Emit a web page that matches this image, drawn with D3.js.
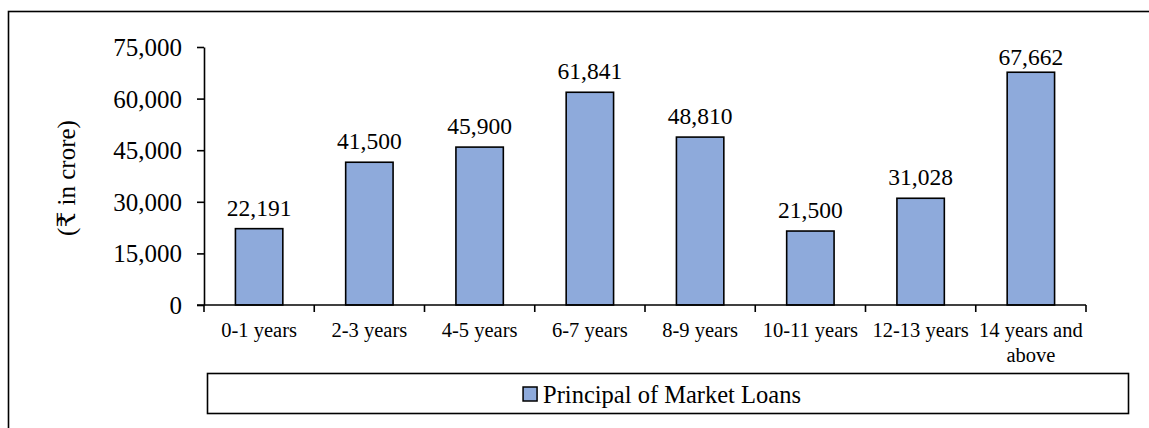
<!DOCTYPE html>
<html>
<head>
<meta charset="utf-8">
<script src="https://cdn.jsdelivr.net/npm/d3@7"></script>
<style>
  html, body { margin: 0; padding: 0; background: #fff; }
  svg { display: block; }
  svg text { font-family: "Liberation Serif", "Times New Roman", Times, Tinos, "DejaVu Serif", serif !important; fill: #000; }
</style>
</head>
<body>
<svg id="chart" width="1149" height="428"></svg>
<script>
const categories = ["0-1 years", "2-3 years", "4-5 years", "6-7 years", "8-9 years", "10-11 years", "12-13 years", "14 years and|above"];
const values = [22191, 41500, 45900, 61841, 48810, 21500, 31028, 67662];
const yTicks = [0, 15000, 30000, 45000, 60000, 75000];
const seriesName = "Principal of Market Loans";
const yTitle = "(₹ in crore)";

const FONT = "'Liberation Serif', 'Times New Roman', Times, Tinos, 'DejaVu Serif', serif";
const svg = d3.select("#chart").attr("font-family", FONT);
const barColor = "#8eaadb";

// outer frame
svg.append("rect").attr("x", 8.5).attr("y", 11.5).attr("width", 1160).attr("height", 440)
  .attr("fill", "none").attr("stroke", "#000").attr("stroke-width", 1.6);

const x = d3.scaleBand().domain(categories).range([204, 1086]).padding(0);
const y = d3.scaleLinear().domain([0, 75000]).range([305, 47]);
const fmt = d3.format(",");

// y axis
const yAxis = svg.append("g").attr("transform", "translate(204,0)")
  .call(d3.axisLeft(y).tickValues(yTicks).tickFormat(fmt).tickSize(7).tickSizeOuter(0));
yAxis.attr("font-family", FONT);
yAxis.select(".domain").attr("stroke", "#000").attr("stroke-width", 1.6);
yAxis.selectAll(".tick line").attr("stroke", "#000").attr("stroke-width", 1.6);
yAxis.selectAll(".tick text").attr("font-size", 25).attr("x", -22).attr("dy", "0.34em");

// bars
const bw = x.bandwidth() * 0.43;
svg.append("g").selectAll("rect").data(values).join("rect")
  .attr("x", (d, i) => x(categories[i]) + (x.bandwidth() - bw) / 2)
  .attr("y", d => y(d))
  .attr("width", bw)
  .attr("height", d => y(0) - y(d))
  .attr("fill", barColor).attr("stroke", "#000").attr("stroke-width", 1.6);

// x axis line
svg.append("line").attr("x1", 197).attr("x2", 1086).attr("y1", y(0)).attr("y2", y(0))
  .attr("stroke", "#000").attr("stroke-width", 1.6);
// x ticks at category boundaries
const bounds = categories.map(c => x(c)).concat([x.range()[1]]);
svg.append("g").selectAll("line").data(bounds).join("line")
  .attr("x1", d => d).attr("x2", d => d).attr("y1", y(0)).attr("y2", y(0) + 7)
  .attr("stroke", "#000").attr("stroke-width", 1.6);

// x labels
const xl = svg.append("g").selectAll("text").data(categories).join("text")
  .attr("x", d => x(d) + x.bandwidth() / 2)
  .attr("y", 337)
  .attr("text-anchor", "middle")
  .attr("font-size", 20.5);
xl.each(function(d) {
  const parts = d.split("|");
  const t = d3.select(this);
  parts.forEach((p, i) => {
    t.append("tspan").attr("x", x(d) + x.bandwidth() / 2).attr("dy", i === 0 ? 0 : 25).text(p);
  });
});

// data labels
svg.append("g").selectAll("text").data(values).join("text")
  .attr("x", (d, i) => x(categories[i]) + x.bandwidth() / 2)
  .attr("y", d => Math.max(y(d) - 13, 65))
  .attr("text-anchor", "middle")
  .attr("font-size", 23.5)
  .text(d => fmt(d));

// y title
svg.append("text")
  .attr("transform", "translate(75,178) rotate(-90)")
  .attr("text-anchor", "middle")
  .attr("font-size", 25)
  .text(yTitle);

// legend
svg.append("rect").attr("x", 207.5).attr("y", 373.5).attr("width", 921).attr("height", 40)
  .attr("fill", "#fff").attr("stroke", "#000").attr("stroke-width", 1.6);
const lg = svg.append("g");
const lt = lg.append("text").attr("x", 0).attr("y", 403).attr("font-size", 24.5).text(seriesName);
const tw = lt.node().getComputedTextLength();
const total = 15 + 5 + tw;
const startX = 662 - total / 2;
lg.append("rect").attr("x", startX).attr("y", 387).attr("width", 14).attr("height", 14)
  .attr("fill", barColor).attr("stroke", "#000").attr("stroke-width", 1.5);
lt.attr("x", startX + 20);
</script>
</body>
</html>
